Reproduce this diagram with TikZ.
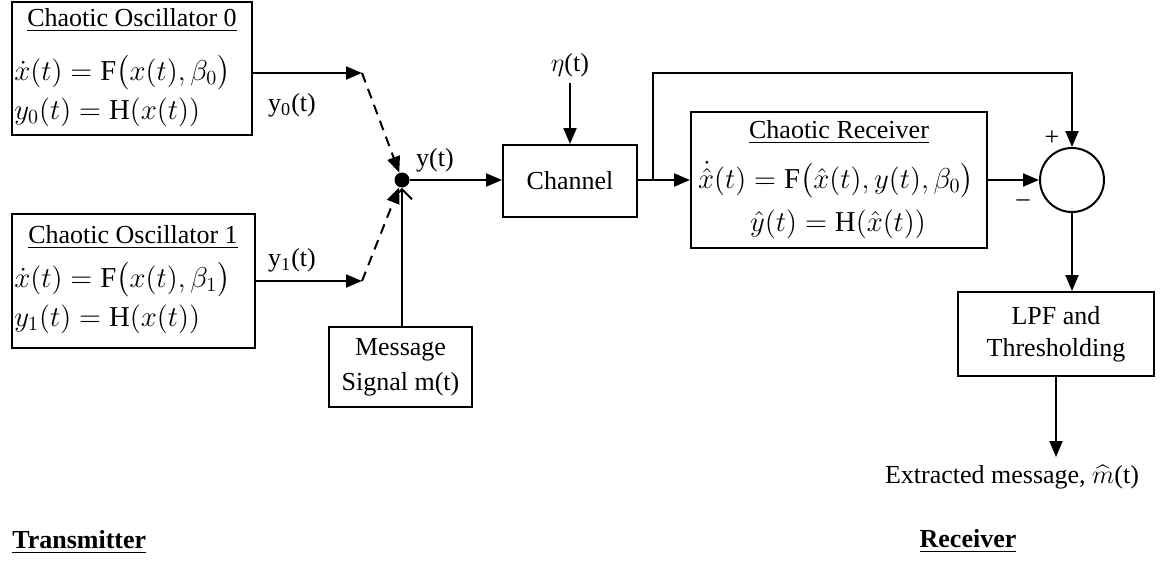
\RequirePackage{fix-cm}
\documentclass[tikz,border=0pt]{standalone}
\usepackage{amsmath}
\usepackage{fontspec}
\setmainfont{Liberation Serif}
\usetikzlibrary{arrows.meta}
\begin{document}
\begin{tikzpicture}[x=0.5pt,y=-0.5pt,
  every node/.style={font=\fontsize{13}{15}\selectfont, inner sep=0pt},
  blk/.style={draw, line width=1pt, inner sep=0pt},
  ln/.style={line width=1pt},
  arr/.style={ln, -{Triangle[length=8pt,width=6.5pt]}},
  darr/.style={arr, dash pattern=on 5pt off 3.5pt},
  oarr/.style={ln, -{Straight Barb[length=5pt,width=10pt,line width=1pt]}},
  eq/.style={font=\fontsize{14.4}{17}\selectfont},
  bold/.style={font=\fontsize{13}{15}\selectfont\bfseries},
]
\useasboundingbox (0,0) rectangle (1162,562);

% transmitter blocks
\node[blk, minimum width=120pt, minimum height=66.5pt] (osc0) at (132,68.5) {};
\node (t0) at (132,20) {\underline{Chaotic Oscillator 0}};
\node[eq, anchor=west] (o0e1) at (14,73) {$\dot{x}(t) = \mathrm{F}\bigl(x(t),\beta_{0}\bigr)$};
\node[eq, anchor=west] (o0e2) at (14,112) {$y_0(t) = \mathrm{H}(x(t))$};

\node[blk, minimum width=121.5pt, minimum height=67pt] (osc1) at (133.5,281) {};
\node (t1) at (133,237) {\underline{Chaotic Oscillator 1}};
\node[eq, anchor=west] (o1e1) at (14,280) {$\dot{x}(t) = \mathrm{F}\bigl(x(t),\beta_{1}\bigr)$};
\node[eq, anchor=west] (o1e2) at (14,319) {$y_1(t) = \mathrm{H}(x(t))$};

\node[blk, minimum width=71.5pt, minimum height=40pt, align=center, font=\fontsize{13}{17.5}\selectfont] (msg) at (400.5,367) {Message\\Signal m(t)};

\node[circle, fill, minimum size=7.5pt] (dot) at (402,180) {};
\coordinate (s0) at (362,73);
\coordinate (s1) at (362,281);

\node (ly0) at (292,105) {y\textsubscript{0}(t)};
\node (ly1) at (292,260) {y\textsubscript{1}(t)};
\node (ly) at (435,160) {y(t)};

\draw[arr] (osc0.east |- s0) -- (s0);
\draw[arr] (osc1.east |- s1) -- (s1);
\draw[darr] (s0) -- (dot);
\draw[darr] (s1) -- (dot);
\draw[oarr] (msg.north -| dot) -- (dot.south);

% channel
\node[blk, minimum width=67pt, minimum height=36pt] (chan) at (570,181) {Channel};
\node (eta) at (570,65) {$\eta$(t)};
\draw[arr] ([yshift=-3pt]eta.south) -- (chan.north);
\draw[arr] (dot) -- (dot -| chan.west);

% receiver
\node[blk, minimum width=148pt, minimum height=68pt] (rx) at (839,180) {};
\node (rt) at (839,132) {\underline{Chaotic Receiver}};
\node[eq] (re1) at (836,180) {$\dot{\hat{x}}(t) = \mathrm{F}\bigl(\hat{x}(t), y(t), \beta_0\bigr)$};
\node[eq] (re2) at (838,224) {$\hat{y}(t) = \mathrm{H}(\hat{x}(t))$};

\draw[arr] (chan.east |- rx) -- (rx.west);
\coordinate (br) at (653,180);
\coordinate (tl) at (653,73);

\node[draw, circle, line width=1pt, minimum size=32pt] (sum) at (1072,180) {};
\node (plus) at (1052,138) {+};
\node (minus) at (1023,203) {–};
\draw[arr] (br) -- (tl) -| (sum.north);
\draw[arr] (rx.east) -- (sum.west);

\node[blk, minimum width=98pt, minimum height=42pt, align=center, font=\fontsize{13}{16}\selectfont] (lpf) at (1056,334) {LPF and\\Thresholding};
\draw[arr] (sum.south) -- (sum.south |- lpf.north);

\node (out) at (1012,477) {Extracted message, $\widehat{m}$(t)};
\coordinate (oe) at (1056,457);
\draw[arr] (lpf.south) -- (oe);

\node[bold, anchor=west] (tx) at (12,542) {\underline{Transmitter}};
\node[bold] (rxl) at (968,541) {\underline{Receiver}};
\end{tikzpicture}
\end{document}
